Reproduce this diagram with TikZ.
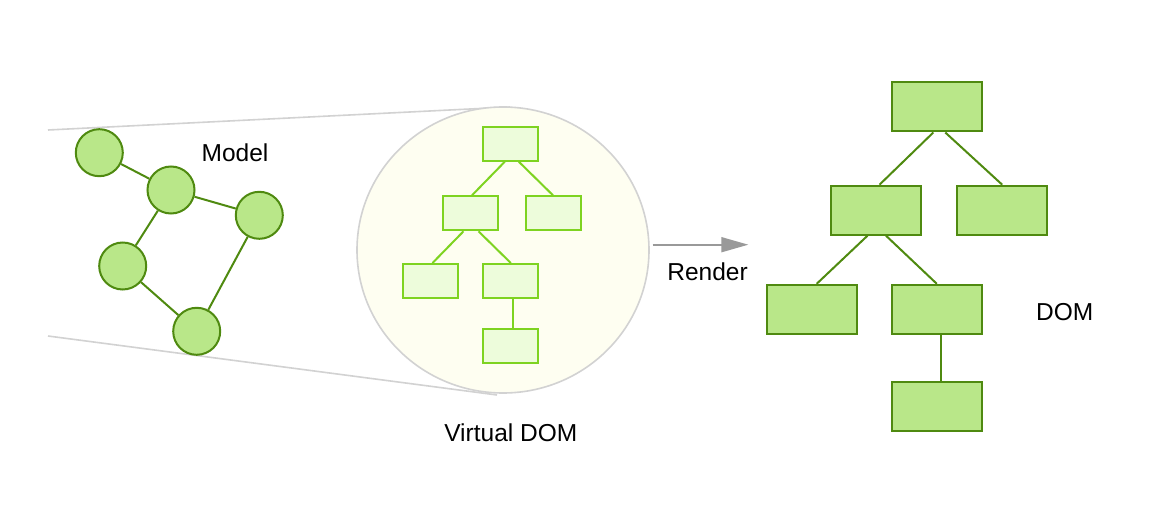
\documentclass[tikz,border=0pt]{standalone}
\usepackage{fontspec}
\setmainfont{Liberation Sans}
\usetikzlibrary{arrows.meta,shapes.geometric}
\definecolor{domfill}{HTML}{B9E789}
\definecolor{domline}{HTML}{4F8A10}
\definecolor{vfill}{HTML}{EDFCDB}
\definecolor{vline}{HTML}{7ED321}
\definecolor{bubble}{HTML}{FEFEF1}
\definecolor{bubbleline}{HTML}{D2D2D2}
\definecolor{arrowgray}{HTML}{999999}
\tikzset{
  modelnode/.style={circle, draw=domline, fill=domfill, line width=2pt, minimum size=47pt, inner sep=0pt},
  domnode/.style={rectangle, draw=domline, fill=domfill, line width=2pt, minimum width=90pt, minimum height=49pt, inner sep=0pt},
  vnode/.style={rectangle, draw=vline, fill=vfill, line width=2pt, minimum width=55pt, minimum height=34pt, inner sep=0pt},
  domedge/.style={draw=domline, line width=2pt},
  vedge/.style={draw=vline, line width=2pt},
  lensline/.style={draw=bubbleline, line width=1.6pt},
  lbl/.style={font=\fontsize{24.5}{28}\selectfont, anchor=base, inner sep=0pt, text=black},
}
\begin{document}
\begin{tikzpicture}[x=1pt, y=-1pt]
\useasboundingbox (0,0) rectangle (1160,516);
\fill[white] (0,0) rectangle (1160,516);

% lens lines
\coordinate (lt) at (48,130);
\coordinate (lb) at (48,336);
\coordinate (ct) at (510,107);
\coordinate (cb) at (497,395);
\draw[lensline] (lt) -- (ct);
\draw[lensline] (lb) -- (cb);

% virtual DOM bubble
\node[ellipse, draw=bubbleline, fill=bubble, line width=1.6pt, minimum width=292pt, minimum height=286pt, inner sep=0pt] (bubble) at (503,250) {};

% model graph
\node[modelnode] (m1) at (99.3,152.7) {};
\node[modelnode] (m2) at (171,190) {};
\node[modelnode] (m3) at (259.3,215.3) {};
\node[modelnode] (m4) at (122.7,266) {};
\node[modelnode] (m5) at (196.7,331.3) {};
\draw[domedge] (m1) -- (m2);
\draw[domedge] (m2) -- (m3);
\draw[domedge] (m2) -- (m4);
\draw[domedge] (m4) -- (m5);
\draw[domedge] (m3) -- (m5);
\node[lbl] (model) at (235,161.7) {Model};

% virtual DOM tree
\node[vnode] (v1) at (510.8,143.7) {};
\node[vnode] (v2) at (470.5,213.3) {};
\node[vnode] (v3) at (553,213.3) {};
\node[vnode] (v4) at (430.5,281) {};
\node[vnode] (v5) at (510.8,281) {};
\node[vnode] (v6) at (510.8,346) {};
\draw[vedge] ([xshift=-6pt]v1.south) -- ([xshift=1.5pt]v2.north);
\draw[vedge] ([xshift=8pt]v1.south) -- (v3.north);
\draw[vedge] ([xshift=-7pt]v2.south) -- ([xshift=2pt]v4.north);
\draw[vedge] ([xshift=8pt]v2.south) -- (v5.north);
\draw[vedge] ([xshift=2pt]v5.south) -- ([xshift=2pt]v6.north);
\node[lbl] (vlabel) at (510.8,441.7) {Virtual DOM};

% render arrow
\coordinate (rs) at (652.7,244.7);
\coordinate (re) at (748.3,244.7);
\draw[draw=arrowgray, line width=1.6pt, -{Triangle[length=27pt, width=15pt]}] (rs) -- (re);
\node[lbl] (render) at (707.5,280.7) {Render};

% DOM tree
\node[domnode] (d1) at (936.8,107) {};
\node[domnode] (d2) at (875.5,210.2) {};
\node[domnode] (d3) at (1002.2,210.2) {};
\node[domnode] (d4) at (812.3,309.3) {};
\node[domnode] (d5) at (936.8,309.3) {};
\node[domnode] (d6) at (936.8,406.3) {};
\draw[domedge] ([xshift=-3.5pt]d1.south) -- ([xshift=4pt]d2.north);
\draw[domedge] ([xshift=8.5pt]d1.south) -- (d3.north);
\draw[domedge] ([xshift=-8pt]d2.south) -- ([xshift=4.4pt]d4.north);
\draw[domedge] ([xshift=10.5pt]d2.south) -- (d5.north);
\draw[domedge] ([xshift=4.2pt]d5.south) -- ([xshift=4.2pt]d6.north);
\node[lbl] (domlabel) at (1064.7,320) {DOM};
\end{tikzpicture}
\end{document}
